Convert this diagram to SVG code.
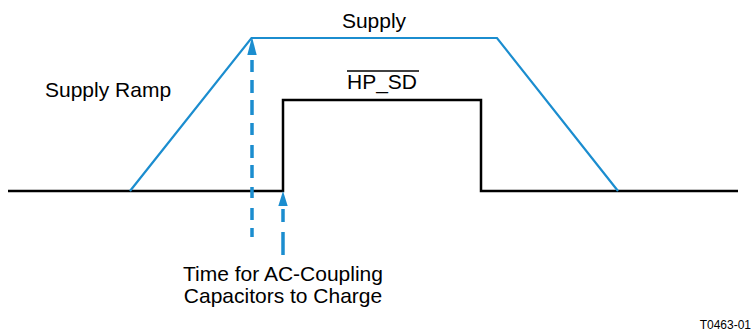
<svg xmlns="http://www.w3.org/2000/svg" width="751" height="332" viewBox="0 0 751 332">
<style>
.lbl{font-family:"Liberation Sans",Arial,sans-serif;font-size:21px;fill:#000}
.sm{font-family:"Liberation Sans",Arial,sans-serif;font-size:12px;fill:#000}
.blk{fill:none;stroke:#000;stroke-width:2.5;stroke-linejoin:miter}
.blu{fill:none;stroke:#1b8dcf;stroke-width:2.2;stroke-linejoin:miter}
.dash{fill:none;stroke:#1b8dcf;stroke-width:3.5}
.head{fill:#1b8dcf}
</style>
<rect width="751" height="332" fill="#fff"/>
<g id="hp_sd_signal">
<path class="blk" d="M8,191 H283 V100 H481 V191 H738"/>
</g>
<g id="supply_signal">
<path class="blu" d="M130,191 L251.5,38 H497 L618,191"/>
</g>
<g id="connectors">
<path class="head" d="M252,37 L256.7,55 L247.3,55 Z"/>
<path class="dash" d="M252,60 V72 M252,80 V93 M252,100 V115 M252,123 V135 M252,145 V158 M252,165 V178 M252,187 V198 M252,208 V220 M252,228 V237"/>
<path class="head" d="M283,191 L287.7,206 L278.3,206 Z"/>
<path class="dash" d="M283,209 V222 M283,232 V255"/>
</g>
<g id="labels">
<text class="lbl" x="374" y="28" text-anchor="middle">Supply</text>
<text class="lbl" x="45" y="97">Supply Ramp</text>
<text class="lbl" x="382" y="89" text-anchor="middle">HP_SD</text>
<line x1="347" y1="71" x2="419" y2="71" stroke="#000" stroke-width="1.4"/>
<text class="lbl" x="283" y="281" text-anchor="middle">Time for AC-Coupling</text>
<text class="lbl" x="283" y="303" text-anchor="middle">Capacitors to Charge</text>
<text class="sm" x="751" y="329" text-anchor="end">T0463-01</text>
</g>
</svg>
